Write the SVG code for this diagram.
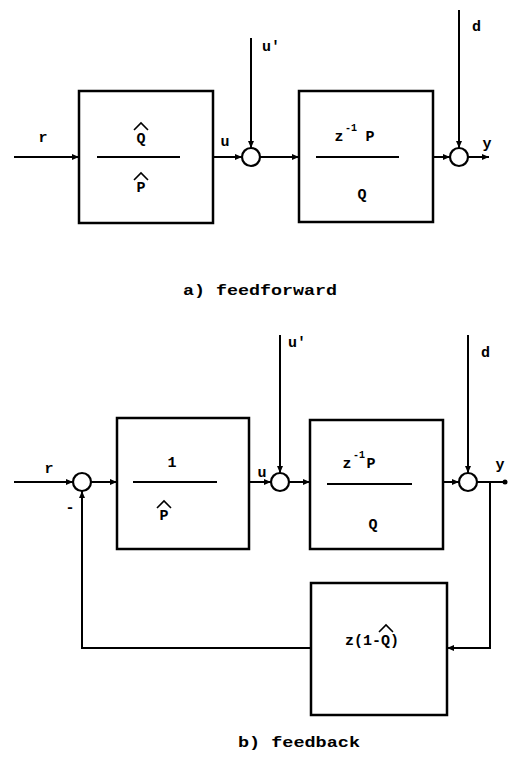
<svg xmlns="http://www.w3.org/2000/svg" width="508" height="771" viewBox="0 0 508 771">
<style>
.box{fill:#fff;stroke:#000;stroke-width:2.5}
.ln{fill:none;stroke:#000;stroke-width:2}
.sum{fill:#fff;stroke:#000;stroke-width:2.2}
.hat{fill:none;stroke:#000;stroke-width:1.6}
text{font-family:"Liberation Mono","DejaVu Sans Mono",monospace;font-weight:bold;font-size:15px;fill:#000}
.cap{font-size:15px}
.sm{font-size:10px}
</style>
<defs>
<marker id="ah" markerWidth="8" markerHeight="8" refX="7" refY="4" orient="auto" markerUnits="userSpaceOnUse">
<path d="M0,1 L7,4 L0,7 Z" fill="#000"/>
</marker>
<marker id="dot" markerWidth="6" markerHeight="6" refX="3" refY="3" markerUnits="userSpaceOnUse">
<circle cx="3" cy="3" r="2.5" fill="#000"/>
</marker>
</defs>

<g id="connectors">
<path class="ln" d="M14 157 H79" marker-end="url(#ah)"/>
<path class="ln" d="M213 157 H242" marker-end="url(#ah)"/>
<path class="ln" d="M251 38 V148" marker-end="url(#ah)"/>
<path class="ln" d="M260 157 H299" marker-end="url(#ah)"/>
<path class="ln" d="M433 157 H450" marker-end="url(#ah)"/>
<path class="ln" d="M459 10 V148" marker-end="url(#ah)"/>
<path class="ln" d="M468 157 H489" marker-end="url(#ah)"/>

<path class="ln" d="M14 482 H73" marker-end="url(#ah)"/>
<path class="ln" d="M91 482 H117" marker-end="url(#ah)"/>
<path class="ln" d="M249 482 H271" marker-end="url(#ah)"/>
<path class="ln" d="M280 335 V473" marker-end="url(#ah)"/>
<path class="ln" d="M289 482 H310" marker-end="url(#ah)"/>
<path class="ln" d="M443 482 H459" marker-end="url(#ah)"/>
<path class="ln" d="M468 335 V473" marker-end="url(#ah)"/>
<path class="ln" d="M477 482 H505" marker-end="url(#dot)"/>
<path class="ln" d="M490 482 V648 H447" marker-end="url(#ah)"/>
<path class="ln" d="M311 648 H82 V491" marker-end="url(#ah)"/>
</g>

<g id="labels">
<text x="43" y="142" text-anchor="middle">r</text>
<text x="225" y="146" text-anchor="middle">u</text>
<text x="262" y="51">u′</text>
<text x="472" y="31">d</text>
<text x="487" y="148" text-anchor="middle">y</text>

<text x="49" y="473" text-anchor="middle">r</text>
<text x="70" y="512" text-anchor="middle">-</text>
<text x="262" y="477" text-anchor="middle">u</text>
<text x="288" y="347">u′</text>
<text x="481" y="357">d</text>
<text x="500" y="469" text-anchor="middle">y</text>
</g>

<g id="ff-inverse">
<rect class="box" x="79" y="91" width="134" height="132"/>
<line class="ln" x1="97" y1="157" x2="180" y2="157"/>
<text x="141" y="143" text-anchor="middle">Q</text>
<polyline class="hat" points="134,130 141,123 148,130"/>
<text x="141" y="192" text-anchor="middle">P</text>
<polyline class="hat" points="134,180 141,173 148,180"/>
</g>

<g id="ff-plant">
<rect class="box" x="299" y="91" width="134" height="131"/>
<line class="ln" x1="316" y1="157" x2="399" y2="157"/>
<text x="339" y="141" text-anchor="middle">z</text>
<text x="345" y="131" class="sm">-1</text>
<text x="370" y="141" text-anchor="middle">P</text>
<text x="362" y="199" text-anchor="middle">Q</text>
</g>

<g id="ff-sum-u">
<circle class="sum" cx="251" cy="157" r="9"/>
</g>
<g id="ff-sum-y">
<circle class="sum" cx="459" cy="157" r="9"/>
</g>

<text class="cap" x="183" y="295" textLength="154" lengthAdjust="spacingAndGlyphs">a) feedforward</text>

<g id="fb-sum-r">
<circle class="sum" cx="82" cy="482" r="9"/>
</g>

<g id="fb-inverse">
<rect class="box" x="117" y="418" width="132" height="131"/>
<line class="ln" x1="133" y1="482" x2="217" y2="482"/>
<text x="172" y="467" text-anchor="middle">1</text>
<text x="164" y="520" text-anchor="middle">P</text>
<polyline class="hat" points="157,508 164,501 171,508"/>
</g>

<g id="fb-sum-u">
<circle class="sum" cx="280" cy="482" r="9"/>
</g>

<g id="fb-plant">
<rect class="box" x="310" y="420" width="133" height="129"/>
<line class="ln" x1="327" y1="484" x2="412" y2="484"/>
<text x="347" y="468" text-anchor="middle">z</text>
<text x="353" y="458" class="sm">-1</text>
<text x="371" y="468" text-anchor="middle">P</text>
<text x="373" y="529" text-anchor="middle">Q</text>
</g>

<g id="fb-sum-y">
<circle class="sum" cx="468" cy="482" r="9"/>
</g>

<g id="fb-filter">
<rect class="box" x="311" y="583" width="136" height="132"/>
<text x="345" y="645">z(1-Q)</text>
<polyline class="hat" points="379,632 386,625 393,632"/>
</g>

<text class="cap" x="238" y="747" textLength="122" lengthAdjust="spacingAndGlyphs">b) feedback</text>
</svg>
